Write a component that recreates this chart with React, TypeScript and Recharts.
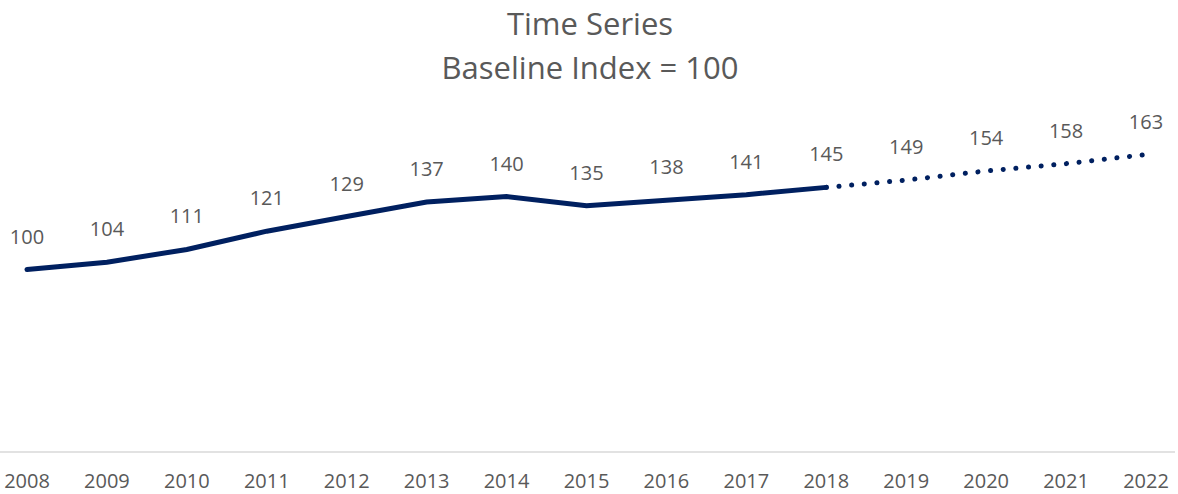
import React from 'react';
import { LineChart, Line, XAxis, YAxis, LabelList } from 'recharts';

const years: string[] = ['2008', '2009', '2010', '2011', '2012', '2013', '2014', '2015', '2016', '2017', '2018', '2019', '2020', '2021', '2022'];
const actual: number[] = [100, 104, 111, 121, 129, 137, 140, 135, 138, 141, 145];
const forecast: number[] = [149, 154, 158, 163];

const NAVY = '#002060';
const GREY = '#595959';
const FONT = '"Open Sans", sans-serif';

// actual runs 2008-2018, forecast picks up from the last actual point
const lastIdx = actual.length - 1;
const data = years.map((year, i) => ({
  year,
  actual: i <= lastIdx ? actual[i] : null,
  forecast: i === lastIdx ? actual[lastIdx] : i > lastIdx ? forecast[i - lastIdx - 1] : null,
  forecastLabel: i > lastIdx ? forecast[i - lastIdx - 1] : null,
}));

export default function App() {
  return (
    <div style={{ position: 'absolute', left: 0, top: 0, width: 1178, height: 494, background: '#fff', fontFamily: FONT }}>
      <LineChart width={1178} height={494} data={data} margin={{ top: 123.5, right: 3, bottom: 0, left: 0 }}>
        <XAxis
          dataKey="year"
          height={42}
          padding={{ left: 27, right: 29 }}
          axisLine={{ stroke: '#d9d9d9', strokeWidth: 1.5 }}
          tickLine={false}
          tickMargin={16}
          interval={0}
          tick={{ fill: GREY, fontSize: 20, fontFamily: FONT }}
        />
        <YAxis hide domain={[0, 180]} />
        <Line
          type="linear"
          dataKey="actual"
          stroke={NAVY}
          strokeWidth={5}
          strokeLinecap="round"
          dot={false}
          activeDot={false}
          connectNulls={false}
          isAnimationActive={false}
        >
          <LabelList dataKey="actual" position="top" offset={26} fill={GREY} fontSize={20} fontFamily={FONT} />
        </Line>
        <Line
          type="linear"
          dataKey="forecast"
          stroke={NAVY}
          strokeWidth={5}
          strokeLinecap="round"
          strokeDasharray="0.1 12.6"
          dot={false}
          activeDot={false}
          connectNulls={false}
          isAnimationActive={false}
        >
          <LabelList dataKey="forecastLabel" position="top" offset={26} fill={GREY} fontSize={20} fontFamily={FONT} />
        </Line>
      </LineChart>
      <svg width={1178} height={100} style={{ position: 'absolute', left: 0, top: 0, pointerEvents: 'none' }}>
        <text x={590} y={35} textAnchor="middle" fill={GREY} fontSize={31} fontFamily={FONT}>
          Time Series
        </text>
        <text x={590} y={79} textAnchor="middle" fill={GREY} fontSize={31} fontFamily={FONT}>
          Baseline Index = 100
        </text>
      </svg>
    </div>
  );
}
